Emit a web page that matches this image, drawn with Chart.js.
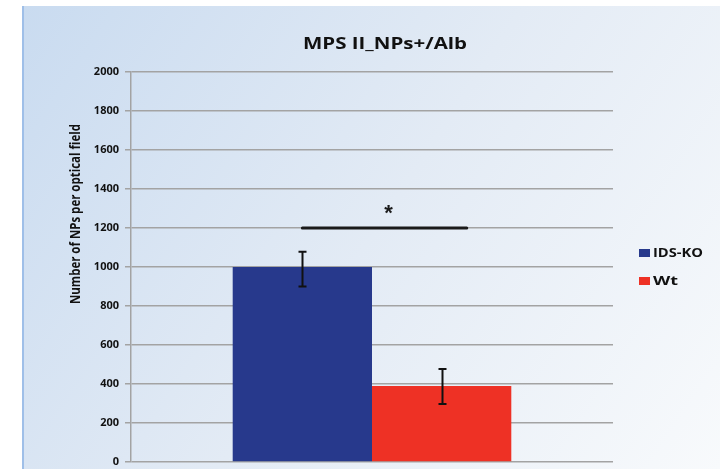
<!DOCTYPE html>
<html>
<head>
<meta charset="utf-8">
<script src="https://cdn.jsdelivr.net/npm/chart.js@4/dist/chart.umd.min.js"></script>
<style>
  html, body { margin: 0; padding: 0; background: #ffffff; }
  #wrap { width: 720px; height: 469px; }
</style>
</head>
<body>
<div id="wrap"><canvas id="c" width="720" height="469"></canvas></div>
<script>
// Chart data
const categories = [''];
const seriesNames = ['IDS-KO', 'Wt'];
const idsKoValues = [1000];
const wtValues = [390];
const idsKoErrLow = [900];
const idsKoErrHigh = [1078];
const wtErrLow = [297];
const wtErrHigh = [477];
const yTickValues = [0, 200, 400, 600, 800, 1000, 1200, 1400, 1600, 1800, 2000];
const significanceLevel = 1200;
const significanceMark = '*';
const chartTitle = 'MPS II_NPs+/Alb';
const yAxisTitle = 'Number of NPs per optical field';

const seriesColors = ['#27398c', '#ee3125'];
const errLows = [idsKoErrLow, wtErrLow];
const errHighs = [idsKoErrHigh, wtErrHigh];

// Draw text squeezed/stretched horizontally to a given width
function drawFitted(ctx, text, x, y, width, font, align) {
  ctx.save();
  ctx.font = font;
  const w = ctx.measureText(text).width;
  const s = width / w;
  ctx.translate(x, y);
  ctx.scale(s, 1);
  ctx.textAlign = align || 'center';
  ctx.fillText(text, 0, 0);
  ctx.restore();
}

const backgroundPlugin = {
  id: 'panelBackground',
  beforeDraw(chart) {
    const ctx = chart.ctx;
    ctx.save();
    const g = ctx.createLinearGradient(22, 6, 720, 469);
    g.addColorStop(0, '#c9dbf0');
    g.addColorStop(0.5, '#e3ebf5');
    g.addColorStop(1, '#f8fafc');
    ctx.fillStyle = g;
    ctx.fillRect(22, 6, 698, 463);
    ctx.fillStyle = '#9fbfe8';
    ctx.fillRect(22, 6, 2, 463);
    ctx.restore();
  }
};

const annotationPlugin = {
  id: 'errorAndSignificance',
  afterDatasetsDraw(chart) {
    const ctx = chart.ctx;
    const yScale = chart.scales.y;
    ctx.save();
    ctx.strokeStyle = '#111111';
    ctx.lineWidth = 2;
    chart.data.datasets.forEach((ds, i) => {
      const meta = chart.getDatasetMeta(i);
      meta.data.forEach((bar, j) => {
        const x = Math.round(bar.x) + 0.5;
        const yl = yScale.getPixelForValue(errLows[i][j]);
        const yh = yScale.getPixelForValue(errHighs[i][j]);
        ctx.beginPath();
        ctx.moveTo(x, yl); ctx.lineTo(x, yh);
        ctx.moveTo(x - 4, yl); ctx.lineTo(x + 4, yl);
        ctx.moveTo(x - 4, yh); ctx.lineTo(x + 4, yh);
        ctx.stroke();
      });
    });
    // significance bracket between the two groups
    const b0 = chart.getDatasetMeta(0).data[0];
    const b1 = chart.getDatasetMeta(1).data[0];
    const x0 = b0.x;
    const x1 = b1.x + b1.width * 0.18;
    const ys = yScale.getPixelForValue(significanceLevel);
    ctx.strokeStyle = '#1a1a1a';
    ctx.lineWidth = 3;
    ctx.lineCap = 'round';
    ctx.beginPath();
    ctx.moveTo(x0, ys); ctx.lineTo(x1, ys);
    ctx.stroke();
    ctx.fillStyle = '#1a1a1a';
    ctx.font = 'bold 22px "Liberation Sans"';
    ctx.textAlign = 'center';
    ctx.textBaseline = 'middle';
    ctx.fillText(significanceMark, (x0 + x1) / 2 + 4, ys - 14);
    ctx.restore();
  },
  afterDraw(chart) {
    const ctx = chart.ctx;
    ctx.save();
    ctx.fillStyle = '#111111';
    ctx.textBaseline = 'alphabetic';
    // title
    drawFitted(ctx, chartTitle, 385, 49, 164, 'bold 16px "Open Sans"');
    // y axis title
    ctx.save();
    ctx.translate(80, 214);
    ctx.rotate(-Math.PI / 2);
    drawFitted(ctx, yAxisTitle, 0, 0, 180, 'bold 14px "Open Sans"');
    ctx.restore();
    // legend
    const legendRows = [253, 281];
    const widths = [50, 25];
    seriesNames.forEach((name, i) => {
      const cy = legendRows[i];
      ctx.fillStyle = seriesColors[i];
      ctx.fillRect(639, cy - 4, 11, 8);
      ctx.fillStyle = '#111111';
      ctx.textBaseline = 'middle';
      drawFitted(ctx, name, 653, cy + 1, widths[i], 'bold 12px "Open Sans"', 'left');
    });
    ctx.restore();
  }
};

new Chart(document.getElementById('c'), {
  type: 'bar',
  data: {
    labels: categories,
    datasets: [
      { label: seriesNames[0], data: idsKoValues, backgroundColor: seriesColors[0] },
      { label: seriesNames[1], data: wtValues, backgroundColor: seriesColors[1] }
    ]
  },
  options: {
    responsive: false,
    devicePixelRatio: 1,
    animation: false,
    layout: { padding: { left: 0, top: 72, right: 107, bottom: 7 } },
    datasets: { bar: { categoryPercentage: 0.578, barPercentage: 1.0 } },
    plugins: {
      legend: { display: false },
      title: { display: false },
      tooltip: { enabled: false }
    },
    scales: {
      x: { display: false },
      y: {
        min: 0,
        max: 2000,
        afterBuildTicks(scale) { scale.ticks = yTickValues.map(v => ({ value: v })); },
        afterFit(scale) {
          scale.width = 131;
          scale.paddingTop = 0;
          scale.paddingBottom = 0;
        },
        border: { display: true, color: '#a3a3a3', width: 1.5 },
        grid: { color: '#a3a3a3', lineWidth: 1.5, tickLength: 6, drawTicks: true },
        ticks: {
          padding: 6,
          color: '#111111',
          font: { family: 'Open Sans', weight: 'bold', size: 11 },
          callback: (v) => String(v)
        }
      }
    }
  },
  plugins: [backgroundPlugin, annotationPlugin]
});
</script>
</body>
</html>
